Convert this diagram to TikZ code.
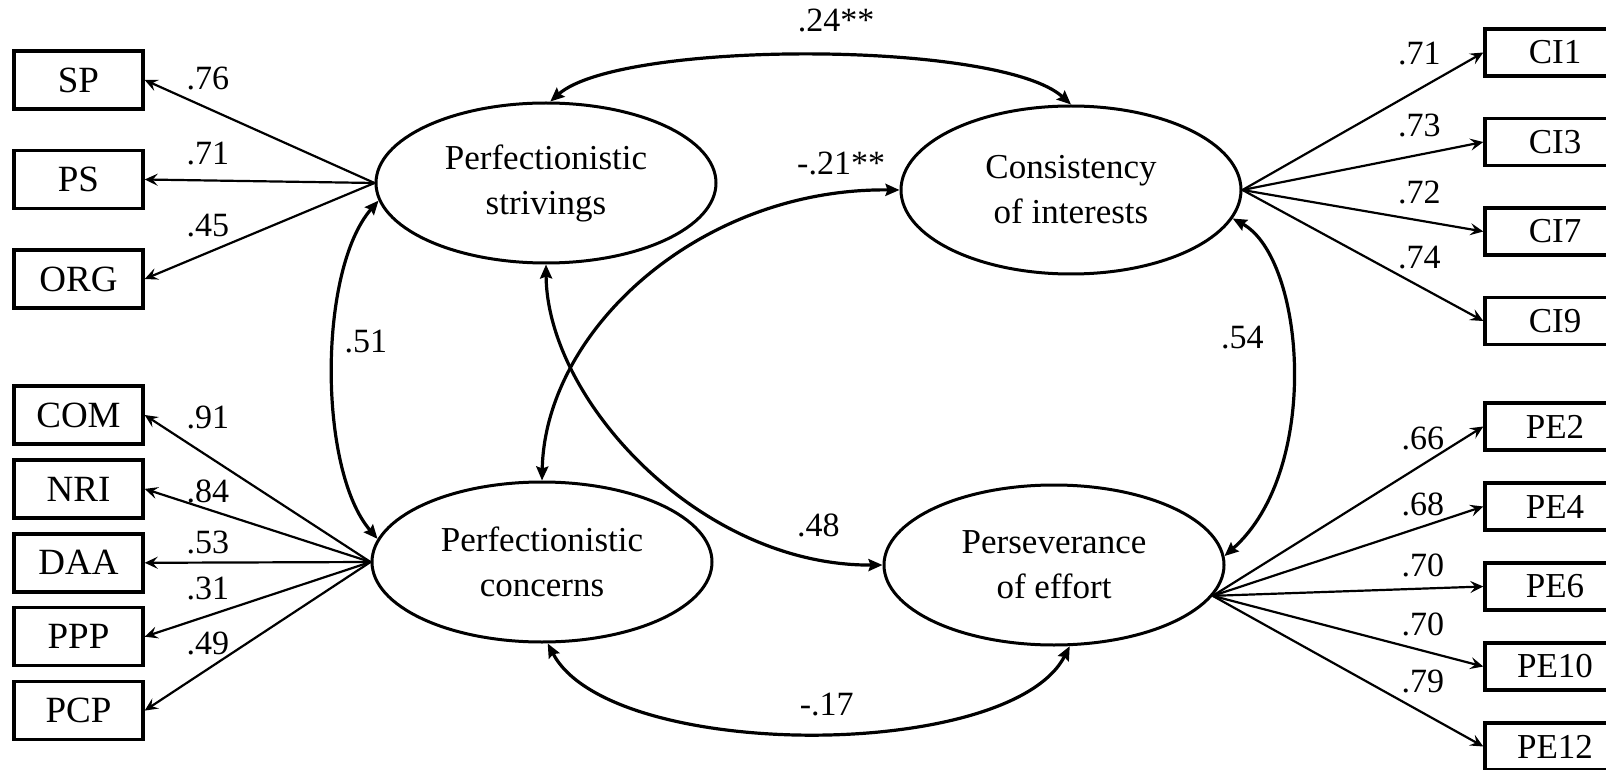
\documentclass[tikz,border=0pt]{standalone}
\usepackage{fontspec}
\setmainfont{Liberation Serif}
\usetikzlibrary{arrows.meta,positioning,shapes.geometric}

\begin{document}
\begin{tikzpicture}[x=0.5pt,y=-0.5pt,on grid,
        latent/.style={ellipse,draw,line width=1.5pt,minimum width=170pt,minimum height=80pt,
            align=center,inner sep=0pt,font=\fontsize{17.5}{22.5}\selectfont},
        obsl/.style={rectangle,draw,line width=1.7pt,minimum width=64.5pt,minimum height=29pt,
            inner sep=0pt,font=\fontsize{18.5}{22}\selectfont},
        obsr/.style={rectangle,draw,line width=1.7pt,minimum width=70pt,minimum height=23.5pt,
            inner sep=0pt,font=\fontsize{17.5}{20}\selectfont},
        load/.style={-{Stealth[length=6.5pt,width=6pt,inset=2.5pt]},line width=1.1pt},
        cov/.style={{Stealth[length=7pt,width=6pt,inset=1pt]}-{Stealth[length=7pt,width=6pt,inset=1pt]},line width=1.6pt},
        coef/.style={inner sep=0pt,font=\fontsize{17}{20}\selectfont}]
    \useasboundingbox (0,0) rectangle (1606,770);

    % latent factors
    \node[latent] (strive)  at (546,183)  {Perfectionistic\\strivings};
    \node[latent] (concern) at (542,562)  {Perfectionistic\\concerns};
    \node[latent,minimum height=84pt] (consist) at (1071,190) {Consistency\\of interests};
    \node[latent] (persev)  at (1054,565) {Perseverance\\of effort};

    % indicators
    \node[obsl] (sp) at (78.5,80) {SP};
    \node[obsl] (ps) [below=49.75pt of sp] {PS};
    \node[obsl] (org) [below=49.75pt of ps] {ORG};
    \node[obsl] (com) at (78.5,415) {COM};
    \node[obsl] (nri) [below=36.95pt of com] {NRI};
    \node[obsl] (daa) [below=36.95pt of nri] {DAA};
    \node[obsl] (ppp) [below=36.95pt of daa] {PPP};
    \node[obsl] (pcp) [below=36.95pt of ppp] {PCP};

    \node[obsr] (ci1) at (1555,52.5) {CI1};
    \foreach \x [remember=\x as \p (initially 1)] in {3,7,9}
        \node[obsr] (ci\x) [below=44.75pt of ci\p] {CI\x};
    \node[obsr] (pe2) at (1555,426.5) {PE2};
    \foreach \x [remember=\x as \p (initially 2)] in {4,6,10,12}
        \node[obsr] (pe\x) [below=40pt of pe\p] {PE\x};

    % loadings
    \foreach \b/\val/\up in {sp/.76/15pt,ps/.71/13.5pt,org/.45/13.3pt}
        \draw[load] (strive.west) -- node[coef,pos=.725,yshift=\up] {\val} (\b.east);
    \foreach \b/\val/\up in {com/.91/19.5pt,nri/.84/9pt,daa/.53/10pt,ppp/.31/13.5pt,pcp/.49/13pt}
        \draw[load] (concern.west) -- node[coef,pos=.72,yshift=\up] {\val} (\b.east);
    \foreach \b/\val/\up in {ci1/.71/18pt,ci3/.73/14.5pt,ci7/.72/14pt,ci9/.74/14.5pt}
        \draw[load] (consist.east) -- node[coef,pos=.734,yshift=\up] {\val} (\b.west);
    \foreach \b/\val/\up in {pe2/.66/13pt,pe4/.68/11pt,pe6/.70/11.5pt,pe10/.70/13pt,pe12/.79/15.5pt}
        \draw[load] (persev.-11) -- node[coef,pos=.777,yshift=\up] {\val} (\b.west);

    % correlations
    \draw[cov] (strive.87) .. controls (620,40) and (1000,40) .. (consist.north)
        node[coef,pos=.5,above=11pt,xshift=13pt] {.24**};
    \draw[cov] (strive.-174) .. controls (318,270) and (318,470) .. (concern.172)
        node[coef,pos=.43,right=4.5pt] {.51};
    \draw[cov] (consist.-10) .. controls (1305,258) and (1322,470) .. (persev.3)
        node[coef,pos=.42,left=12.5pt] {.54};
    \draw[cov] (concern.north) .. controls (545,330) and (700,188) .. (consist.west)
        node[coef,pos=.9,above=8.5pt] {-.21**};
    \draw[cov] (strive.south) .. controls (547,400) and (700,566) .. (persev.west)
        node[coef,pos=.88,above=10pt] {.48};
    \draw[cov] (concern.-86) .. controls (610,762) and (1010,762) .. (persev.-79)
        node[coef,pos=.5,above=7.5pt,xshift=8.5pt] {-.17};
\end{tikzpicture}
\end{document}
